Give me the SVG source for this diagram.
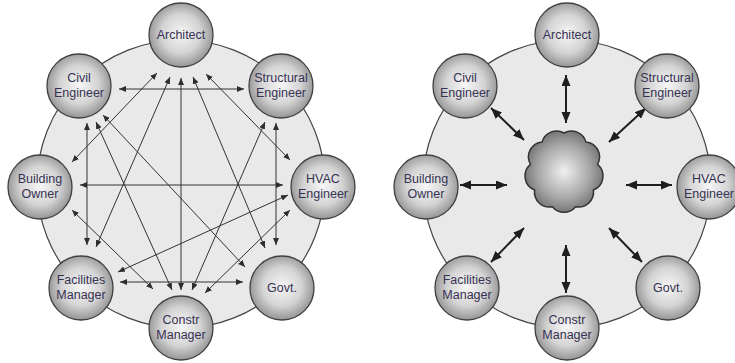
<svg xmlns="http://www.w3.org/2000/svg" width="735" height="363" viewBox="0 0 735 363">
  <defs>
    <radialGradient id="ball" cx="50%" cy="48%" r="55%">
      <stop offset="0" stop-color="#f6f6f6"/>
      <stop offset="0.55" stop-color="#d4d4d4"/>
      <stop offset="1" stop-color="#8c8c8c"/>
    </radialGradient>
    <radialGradient id="cloudFill" cx="50%" cy="50%" r="55%">
      <stop offset="0" stop-color="#f0f0f0"/>
      <stop offset="0.6" stop-color="#a8a8a8"/>
      <stop offset="1" stop-color="#6a6a6a"/>
    </radialGradient>
    <marker id="thinHead" markerUnits="userSpaceOnUse" markerWidth="8" markerHeight="7" refX="7" refY="3" orient="auto-start-reverse">
      <path d="M0,0 L7,3 L0,6 z" fill="#2e2e2e"/>
    </marker>
    <marker id="boldHead" markerUnits="userSpaceOnUse" markerWidth="12" markerHeight="10" refX="11" refY="4.5" orient="auto-start-reverse">
      <path d="M0,0 L11,4.5 L0,9 z" fill="#1e1e1e"/>
    </marker>
  </defs>
  <style>
    .ring { fill: #e9e9e9; stroke: #454545; stroke-width: 1.2; }
    .node circle { fill: url(#ball); stroke: #404040; stroke-width: 1.3; }
    .node text { font-family: "Liberation Sans", Arial, sans-serif; font-size: 12.5px; fill: #363252; text-anchor: middle; }
    .thin line { stroke: #333; stroke-width: 1; marker-start: url(#thinHead); marker-end: url(#thinHead); }
    .bold line { stroke: #1e1e1e; stroke-width: 2; marker-start: url(#boldHead); marker-end: url(#boldHead); }
    .cloud { fill: url(#cloudFill); stroke: #333; stroke-width: 1.5; }
  </style>

  <rect width="735" height="363" fill="#ffffff"/>

  <!-- Point-to-point network -->
  <circle class="ring" cx="181" cy="184" r="144"/>

  <g id="mesh-connectors" class="thin">
    <line x1="119" y1="89" x2="244" y2="89"/>
    <line x1="157" y1="73" x2="72" y2="162"/>
    <line x1="170" y1="77" x2="96" y2="247"/>
    <line x1="181" y1="78" x2="181" y2="290"/>
    <line x1="193" y1="77" x2="265" y2="248"/>
    <line x1="206" y1="74" x2="290" y2="160"/>
    <line x1="87" y1="123" x2="87" y2="245"/>
    <line x1="96" y1="122" x2="172" y2="290"/>
    <line x1="103" y1="115" x2="245" y2="267"/>
    <line x1="276" y1="123" x2="276" y2="245"/>
    <line x1="265" y1="122" x2="192" y2="290"/>
    <line x1="80" y1="185" x2="283" y2="185"/>
    <line x1="72" y1="210" x2="153" y2="289"/>
    <line x1="118" y1="272" x2="288" y2="195"/>
    <line x1="290" y1="210" x2="205" y2="293"/>
    <line x1="120" y1="282" x2="243" y2="282"/>
  </g>

  <g id="mesh-architect" class="node"><circle cx="181" cy="35" r="32"/><text x="181" y="39">Architect</text></g>
  <g id="mesh-civil" class="node"><circle cx="79" cy="86" r="32"/><text x="79" y="82">Civil</text><text x="79" y="97">Engineer</text></g>
  <g id="mesh-structural" class="node"><circle cx="281" cy="86" r="32"/><text x="281" y="82">Structural</text><text x="281" y="97">Engineer</text></g>
  <g id="mesh-owner" class="node"><circle cx="40" cy="187" r="32"/><text x="40" y="183">Building</text><text x="40" y="198">Owner</text></g>
  <g id="mesh-hvac" class="node"><circle cx="323" cy="187" r="32"/><text x="323" y="183">HVAC</text><text x="323" y="198">Engineer</text></g>
  <g id="mesh-facilities" class="node"><circle cx="81" cy="288" r="32"/><text x="81" y="284">Facilities</text><text x="81" y="299">Manager</text></g>
  <g id="mesh-govt" class="node"><circle cx="282" cy="288" r="32"/><text x="282" y="292">Govt.</text></g>
  <g id="mesh-constr" class="node"><circle cx="181" cy="328" r="32"/><text x="181" y="324">Constr</text><text x="181" y="339">Manager</text></g>

  <!-- Hub network around a shared cloud -->
  <circle class="ring" cx="567" cy="184" r="144"/>

  <g id="hub-cloud">
    <path class="cloud" d="M564,133 A15,15 0 0 1 585.9,141.9 A15,15 0 0 1 597.5,164.4 A15,15 0 0 1 593.4,190 A15,15 0 0 1 575.6,206.7 A15,15 0 0 1 552.4,206.7 A15,15 0 0 1 534.6,190 A15,15 0 0 1 530.5,164.4 A15,15 0 0 1 542.1,141.9 A15,15 0 0 1 564,133 z"/>
  </g>

  <g id="hub-connectors" class="bold">
    <line x1="566" y1="75" x2="566" y2="123"/>
    <line x1="491" y1="108" x2="524" y2="140"/>
    <line x1="646" y1="108" x2="609" y2="142"/>
    <line x1="460" y1="185" x2="507" y2="185"/>
    <line x1="626" y1="185" x2="672" y2="185"/>
    <line x1="491" y1="262" x2="524" y2="228"/>
    <line x1="566" y1="245" x2="566" y2="293"/>
    <line x1="609" y1="228" x2="642" y2="262"/>
  </g>

  <g id="hub-architect" class="node"><circle cx="567" cy="35" r="32"/><text x="567" y="39">Architect</text></g>
  <g id="hub-civil" class="node"><circle cx="465" cy="86" r="32"/><text x="465" y="82">Civil</text><text x="465" y="97">Engineer</text></g>
  <g id="hub-structural" class="node"><circle cx="667" cy="86" r="32"/><text x="667" y="82">Structural</text><text x="667" y="97">Engineer</text></g>
  <g id="hub-owner" class="node"><circle cx="426" cy="187" r="32"/><text x="426" y="183">Building</text><text x="426" y="198">Owner</text></g>
  <g id="hub-hvac" class="node"><circle cx="709" cy="187" r="32"/><text x="709" y="183">HVAC</text><text x="709" y="198">Engineer</text></g>
  <g id="hub-facilities" class="node"><circle cx="467" cy="288" r="32"/><text x="467" y="284">Facilities</text><text x="467" y="299">Manager</text></g>
  <g id="hub-govt" class="node"><circle cx="668" cy="288" r="32"/><text x="668" y="292">Govt.</text></g>
  <g id="hub-constr" class="node"><circle cx="567" cy="328" r="32"/><text x="567" y="324">Constr</text><text x="567" y="339">Manager</text></g>
</svg>
